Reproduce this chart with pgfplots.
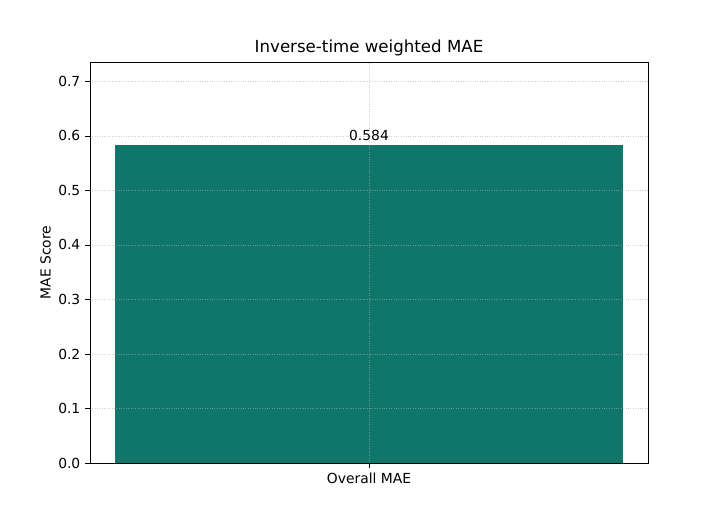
\documentclass[border=0pt]{standalone}
\usepackage{fontspec}
\setmainfont{DejaVu Sans}
\usepackage{pgfplots}
\pgfplotsset{compat=1.18}
\definecolor{barteal}{HTML}{10766C}
\definecolor{gridgray}{HTML}{B0B0B0}
\begin{document}
\begin{tikzpicture}
\fontsize{13.9}{16}\selectfont
\useasboundingbox (0,0) rectangle (720bp,520bp);
\begin{axis}[
  at={(90bp,57bp)}, anchor=south west,
  scale only axis, width=558bp, height=401bp,
  xmin=-0.44, xmax=0.44, ymin=0, ymax=0.7356,
  xtick={0}, xticklabels={Overall MAE},
  ytick={0,0.1,...,0.7},
  yticklabel style={/pgf/number format/.cd,fixed,fixed zerofill,precision=1},
  /pgf/number format/assume math mode=true,
  tick align=outside, major tick length=4.9bp,
  tick style={black, line width=0.8pt},
  xtick pos=bottom, ytick pos=left,
  axis line style={line width=0.8pt},
  grid=major,
  major grid style={gridgray, opacity=0.6, dotted, line width=0.8pt},
  axis on top,
  title={\fontsize{16.7}{19}\selectfont Inverse-time weighted MAE},
  title style={yshift=-5bp},
  ylabel={MAE Score},
  ylabel style={yshift=-2bp},
  ticklabel style={font=\fontsize{13.9}{16}\selectfont},
  label style={font=\fontsize{13.9}{16}\selectfont},
]
\addplot[ybar, bar width=0.8, fill=barteal, draw=none,
  nodes near coords,
  nodes near coords style={font=\fontsize{13.9}{16}\selectfont, black, anchor=south, yshift=-1bp,
    /pgf/number format/.cd,fixed,fixed zerofill,precision=3},
] coordinates {(0,0.584)};
\end{axis}
\end{tikzpicture}
\end{document}
